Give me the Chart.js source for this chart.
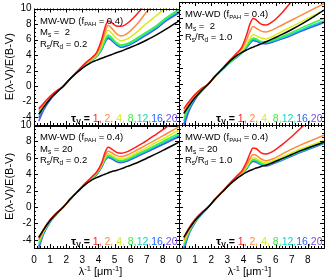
<!DOCTYPE html>
<html><head><meta charset="utf-8">
<script src="https://cdn.jsdelivr.net/npm/chart.js@4"></script>
<style>
body{margin:0;background:#fff}
#wrap{position:relative;width:326px;height:280px;background:#fff}
canvas{position:absolute;left:0;top:0}
</style></head>
<body><div id="wrap">
<canvas id="c0" width="326" height="280"></canvas>
<canvas id="c1" width="326" height="280"></canvas>
<canvas id="c2" width="326" height="280"></canvas>
<canvas id="c3" width="326" height="280"></canvas>
</div>
<script>
// ---- data ----
const invLambda = [0.3,0.6,1.0,1.4,1.82,2.27,2.7,3.2,3.6,3.9,4.2,4.4,4.6,4.8,5.1,5.4,5.8,6.4,7.0,7.6,8.2,9.0];
const tauLabels = ['1','2','4','8','12','16','20'];
const tauColors = ['#ff1c1c','#ff8a3c','#d8ec1a','#3cf03c','#14d8bc','#2266ff','#7a50e0'];
const xTickLabels = [0,1,2,3,4,5,6,7,8];
const yTickLabels = [-4,-2,0,2,4,6,8,10];

// Ms = 2, Rs/Rd = 0.2
const tl_black = [-3.6,-2.7,-1.65,-0.8,0,1.0,1.8,2.6,3.1,3.35,3.6,3.75,3.9,4.05,4.3,4.5,4.85,5.35,5.95,6.6,7.35,8.4];
const tl_tau1  = [-2.9,-2.2,-1.3,-0.6,0,1.0,1.95,3.0,3.7,4.4,6.0,7.5,8.4,8.2,7.75,7.7,8.1,9.3,10.8,12.2,13.5,15];
const tl_tau2  = [-3.1,-2.35,-1.4,-0.65,0,1.0,1.9,2.9,3.6,4.2,5.6,6.9,7.8,7.5,6.8,6.45,6.8,8.0,9.6,11,12.3,14];
const tl_tau4  = [-3.3,-2.5,-1.5,-0.7,0,1.0,1.9,2.85,3.5,4.0,5.2,6.4,7.2,6.9,6.2,5.85,6.1,7.0,8.1,9.1,10.1,11.5];
const tl_tau8  = [-3.6,-2.65,-1.6,-0.75,0,1.0,1.85,2.8,3.45,3.9,4.9,5.9,6.6,6.3,5.65,5.3,5.5,6.2,7.0,7.8,8.8,9.9];
const tl_tau12 = [-3.8,-2.75,-1.65,-0.78,0,1.0,1.85,2.75,3.4,3.85,4.8,5.75,6.4,6.1,5.5,5.15,5.35,6.0,6.8,7.6,8.6,9.7];
const tl_tau16 = [-4.1,-2.9,-1.7,-0.8,0,1.0,1.85,2.75,3.4,3.85,4.75,5.65,6.25,6.0,5.4,5.05,5.25,5.9,6.7,7.5,8.5,9.5];
const tl_tau20 = [-4.5,-3.1,-1.8,-0.85,0,1.0,1.85,2.75,3.4,3.85,4.7,5.6,6.15,5.9,5.35,5.0,5.2,5.85,6.6,7.4,8.4,9.4];

// Ms = 2, Rs/Rd = 1.0
const tr_black = [-3.6,-2.7,-1.65,-0.8,0,1.0,1.85,2.85,3.5,3.85,4.15,4.35,4.5,4.65,4.9,5.15,5.5,6.05,6.65,7.3,8.0,9.0];
const tr_tau1  = [-3.0,-2.2,-1.25,-0.55,0,1.0,1.9,3.0,3.8,4.5,6.0,7.3,8.0,7.8,7.3,7.2,7.6,8.7,10.1,11.5,12.8,14.5];
const tr_tau2  = [-3.3,-2.4,-1.35,-0.6,0,1.0,1.9,2.95,3.7,4.3,5.4,6.4,7.0,6.8,6.45,6.35,6.6,7.2,7.8,8.4,9.0,9.8];
const tr_tau4  = [-3.7,-2.6,-1.5,-0.7,0,1.0,1.85,2.85,3.55,4.05,4.9,5.6,6.0,5.9,5.6,5.5,5.8,6.4,7.0,7.6,8.2,9.0];
const tr_tau8  = [-4.1,-2.8,-1.6,-0.75,0,1.0,1.8,2.75,3.4,3.9,4.65,5.25,5.6,5.5,5.2,5.15,5.35,5.8,6.3,6.85,7.35,8.0];
const tr_tau12 = [-4.5,-3.0,-1.7,-0.8,0,1.0,1.8,2.7,3.35,3.85,4.55,5.1,5.45,5.35,5.1,5.05,5.25,5.65,6.1,6.6,7.1,7.7];
const tr_tau16 = [-4.9,-3.2,-1.8,-0.85,0,1.0,1.8,2.7,3.3,3.8,4.5,5.0,5.35,5.25,5.0,4.95,5.15,5.55,6.0,6.5,6.95,7.55];
const tr_tau20 = [-5.3,-3.4,-1.9,-0.9,0,1.0,1.8,2.7,3.3,3.8,4.45,4.95,5.3,5.2,4.95,4.9,5.1,5.5,5.95,6.45,6.9,7.5];

// Ms = 20, Rs/Rd = 0.2
const bl_black = [-3.7,-2.75,-1.65,-0.8,0,1.0,1.85,2.75,3.3,3.6,3.85,4.0,4.15,4.3,4.45,4.65,4.95,5.4,5.95,6.5,7.1,7.9];
const bl_tau1  = [-3.8,-2.7,-1.55,-0.7,0,1.0,1.9,2.95,3.7,4.3,5.4,6.6,7.3,7.1,6.7,6.55,6.75,7.4,8.1,8.9,9.7,10.8];
const bl_tau2  = [-4.0,-2.8,-1.6,-0.75,0,1.0,1.9,2.9,3.65,4.2,5.2,6.2,6.8,6.65,6.3,6.15,6.35,6.95,7.6,8.25,8.9,9.8];
const bl_tau4  = [-4.2,-2.9,-1.65,-0.78,0,1.0,1.9,2.9,3.6,4.15,5.1,6.0,6.5,6.35,6.0,5.85,6.05,6.65,7.25,7.9,8.5,9.4];
const bl_tau8  = [-4.4,-3.0,-1.7,-0.8,0,1.0,1.9,2.85,3.55,4.1,5.0,5.85,6.3,6.15,5.8,5.65,5.85,6.45,7.0,7.6,8.2,9.0];
const bl_tau12 = [-4.6,-3.1,-1.75,-0.82,0,1.0,1.9,2.85,3.55,4.05,4.95,5.75,6.2,6.05,5.7,5.55,5.75,6.3,6.85,7.45,8.0,8.8];
const bl_tau16 = [-4.8,-3.2,-1.8,-0.85,0,1.0,1.9,2.85,3.5,4.0,4.9,5.7,6.1,5.95,5.6,5.45,5.65,6.2,6.75,7.3,7.9,8.65];
const bl_tau20 = [-5.0,-3.3,-1.85,-0.88,0,1.0,1.9,2.85,3.5,4.0,4.85,5.65,6.05,5.9,5.55,5.4,5.6,6.15,6.7,7.25,7.8,8.55];

// Ms = 20, Rs/Rd = 1.0
const br_black = [-3.7,-2.75,-1.65,-0.8,0,1.0,1.85,2.85,3.5,3.9,4.25,4.45,4.6,4.75,4.95,5.1,5.4,5.9,6.4,6.9,7.35,7.9];
const br_tau1  = [-3.7,-2.6,-1.5,-0.68,0,1.0,1.9,3.0,3.8,4.4,5.5,6.5,7.2,7.1,6.6,6.45,6.75,7.6,8.6,9.7,10.8,12.2];
const br_tau2  = [-4.0,-2.8,-1.6,-0.75,0,1.0,1.9,2.95,3.7,4.25,5.1,5.9,6.4,6.3,5.85,5.65,5.85,6.45,7.05,7.6,8.1,8.75];
const br_tau4  = [-4.3,-2.95,-1.68,-0.8,0,1.0,1.9,2.9,3.65,4.15,4.9,5.6,6.0,5.9,5.55,5.4,5.6,6.1,6.6,7.1,7.55,8.15];
const br_tau8  = [-4.55,-3.1,-1.75,-0.82,0,1.0,1.85,2.9,3.6,4.1,4.8,5.45,5.8,5.7,5.35,5.2,5.45,5.9,6.4,6.9,7.35,7.95];
const br_tau12 = [-4.8,-3.2,-1.8,-0.85,0,1.0,1.85,2.85,3.55,4.05,4.75,5.35,5.7,5.6,5.25,5.1,5.35,5.8,6.3,6.8,7.25,7.85];
const br_tau16 = [-5.0,-3.3,-1.85,-0.87,0,1.0,1.85,2.85,3.55,4.05,4.7,5.3,5.6,5.5,5.2,5.05,5.3,5.75,6.25,6.75,7.2,7.8];
const br_tau20 = [-5.3,-3.4,-1.9,-0.9,0,1.0,1.85,2.85,3.55,4.0,4.65,5.25,5.55,5.45,5.15,5.0,5.25,5.7,6.2,6.7,7.15,7.75];

// ---- layout ----
const FONT = '"Liberation Sans", Arial, Helvetica, sans-serif';
const COLS = [34, 179, 324];
const ROWS = [2, 125, 248];

const panels = [
  {id:'c0', row:0, col:0, ms:' =  2', rr:' = 0.2', black:tl_black, taus:[tl_tau1,tl_tau2,tl_tau4,tl_tau8,tl_tau12,tl_tau16,tl_tau20]},
  {id:'c1', row:0, col:1, ms:' =  2', rr:' = 1.0', black:tr_black, taus:[tr_tau1,tr_tau2,tr_tau4,tr_tau8,tr_tau12,tr_tau16,tr_tau20]},
  {id:'c2', row:1, col:0, ms:' = 20', rr:' = 0.2', black:bl_black, taus:[bl_tau1,bl_tau2,bl_tau4,bl_tau8,bl_tau12,bl_tau16,bl_tau20]},
  {id:'c3', row:1, col:1, ms:' = 20', rr:' = 1.0', black:br_black, taus:[br_tau1,br_tau2,br_tau4,br_tau8,br_tau12,br_tau16,br_tau20]},
];

function richWidth(ctx, parts){
  let w = 0;
  for (const p of parts){ ctx.font = (p.bold?'bold ':'') + p.size + 'px ' + FONT; w += ctx.measureText(p.t).width; }
  return w;
}
function drawRich(ctx, x, y, parts){
  let cx = x;
  for (const p of parts){
    ctx.font = (p.bold?'bold ':'') + p.size + 'px ' + FONT;
    ctx.fillStyle = p.color || '#000';
    ctx.fillText(p.t, cx, y + (p.dy || 0));
    cx += ctx.measureText(p.t).width;
  }
}

const decorPlugin = {
  id:'decor',
  afterDraw(chart, args, opts){
    const {ctx, chartArea:a, scales:{x, y}} = chart;
    const P = opts.panel;
    ctx.save();
    ctx.strokeStyle = '#000'; ctx.lineWidth = 1;
    ctx.beginPath();
    for (let k = 0; k <= 45; k++){
      const v = k * 0.2;
      const major = (k % 5 === 0);
      const L = major ? 4 : 2;
      const px = Math.round(x.getPixelForValue(v)) + 0.5;
      ctx.moveTo(px, a.bottom); ctx.lineTo(px, a.bottom - L);
      ctx.moveTo(px, a.top); ctx.lineTo(px, a.top + L);
    }
    for (let k = -10; k <= 20; k++){
      const v = k * 0.5;
      const major = (k % 4 === 0);
      const L = major ? 4 : 2;
      const py = Math.round(y.getPixelForValue(v)) + 0.5;
      ctx.moveTo(a.left, py); ctx.lineTo(a.left + L, py);
      ctx.moveTo(a.right, py); ctx.lineTo(a.right - L, py);
    }
    ctx.stroke();
    ctx.strokeRect(Math.round(a.left) + 0.5, Math.round(a.top) + 0.5, Math.round(a.right - a.left), Math.round(a.bottom - a.top));

    ctx.textBaseline = 'alphabetic';
    const tx = a.left + 6;
    drawRich(ctx, tx, a.top + 15, [
      {t:'MW-WD (f', size:9.5}, {t:'PAH', size:6, dy:2}, {t:' = 0.4)', size:9.5}]);
    drawRich(ctx, tx, a.top + 26.5, [
      {t:'M', size:9.5}, {t:'s', size:6.5, dy:2}, {t:P.ms, size:9.5}]);
    drawRich(ctx, tx, a.top + 38, [
      {t:'R', size:9.5}, {t:'s', size:6.5, dy:2}, {t:'/R', size:9.5}, {t:'d', size:6.5, dy:2}, {t:P.rr, size:9.5}]);

    const parts = [{t:'\u03C4', size:11.5, bold:true}, {t:'V', size:7, bold:true, dy:2}, {t:' = ', size:10.5, bold:true}];
    tauLabels.forEach((lab, i) => {
      const last = i === tauLabels.length - 1;
      let t = lab + (last ? '' : ',') + ((i < 3) ? ' ' : '');
      parts.push({t, size:10.5, color:tauColors[i]});
    });
    const w = richWidth(ctx, parts);
    drawRich(ctx, a.right - 1.5 - w, a.bottom - 3.5, parts);

    if (P.row === 1){
      const tparts = [{t:'\u03BB', size:11}, {t:'-1', size:7.5, dy:-4.5}, {t:' [\u03BCm', size:11}, {t:'-1', size:7.5, dy:-4.5}, {t:']', size:11}];
      const tw = richWidth(ctx, tparts);
      const cx = (a.left + a.right) / 2 - (P.col === 0 ? 6 : 2);
      drawRich(ctx, cx - tw / 2, 275, tparts);
    }
    ctx.restore();
  }
};

panels.forEach(P => {
  const left = COLS[P.col], right = COLS[P.col + 1];
  const top = ROWS[P.row], bottom = ROWS[P.row + 1];
  const showY = P.col === 0, showX = P.row === 1;
  const datasets = [{data: invLambda.map((x, i) => ({x, y: P.black[i]})), borderColor:'#000'}];
  P.taus.forEach((arr, j) => {
    datasets.push({data: invLambda.map((x, i) => ({x, y: arr[i]})), borderColor: tauColors[j]});
  });
  new Chart(document.getElementById(P.id), {
    type:'line',
    data:{datasets},
    plugins:[decorPlugin],
    options:{
      responsive:false, animation:false, devicePixelRatio:1,
      layout:{padding:{left: showY ? 0 : left, right: 326 - right, top: top, bottom: showX ? 0 : 280 - bottom}},
      plugins:{legend:{display:false}, tooltip:{enabled:false}, decor:{panel:P}},
      elements:{point:{radius:0}, line:{borderWidth:1.5, cubicInterpolationMode:'monotone', fill:false}},
      scales:{
        x:{type:'linear', min:0, max:9, display:showX,
           afterBuildTicks: s => { s.ticks = xTickLabels.map(v => ({value:v})); },
           afterFit: s => { s.height = showX ? 32 : 0; },
           grid:{display:false, drawTicks:false}, border:{display:false},
           ticks:{color:'#000', font:{family:FONT, size:10}, padding:6, maxRotation:0, autoSkip:false}},
        y:{type:'linear', min:-5, max:10, display:showY,
           afterBuildTicks: s => { s.ticks = yTickLabels.map(v => ({value:v})); },
           afterFit: s => { s.width = showY ? 34 : 0; },
           grid:{display:false, drawTicks:false}, border:{display:false},
           ticks:{color:'#000', font:{family:FONT, size:10}, padding:2.5, autoSkip:false},
           title:{display:true, text:'E(\u03BB-V)/E(B-V)', color:'#000', font:{family:FONT, size:11}, padding:{top:3, bottom:0}}}
      }
    }
  });
});
</script>
</body></html>
